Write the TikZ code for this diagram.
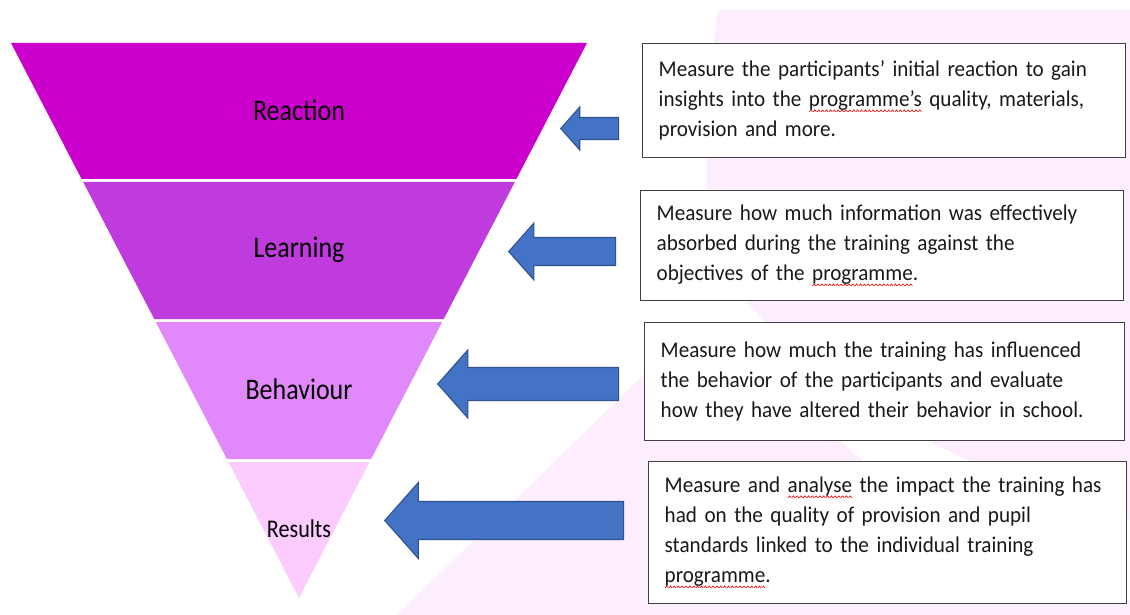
\documentclass[tikz,border=0pt]{standalone}
\usepackage{fontspec}
\setmainfont{Carlito}[FakeStretch=0.87]
\newfontfamily\descfamily{Carlito}[FakeStretch=0.94]
\usepackage{xcolor}
\usetikzlibrary{shapes.arrows}
\definecolor{reactcol}{RGB}{204,0,204}
\definecolor{learncol}{RGB}{191,59,221}
\definecolor{behavcol}{RGB}{225,137,251}
\definecolor{resultcol}{RGB}{253,204,255}
\definecolor{arrowblue}{RGB}{68,114,196}
\definecolor{arrowedge}{RGB}{47,82,143}
\definecolor{backpink}{RGB}{252,238,252}
\definecolor{boxedge}{RGB}{64,64,64}
\newsavebox{\spellbox}
\newcommand{\spellwave}[1]{\leavevmode\sbox{\spellbox}{#1}%
  \rlap{\lower3pt\hbox to \wd\spellbox{\xleaders\hbox{\tikz[x=1pt,y=1pt]\draw[red,line width=0.35pt] (0,0)--(0.9,1.1)--(1.8,0);}\hfill}}%
  \usebox{\spellbox}}
\newcommand{\desc}{\descfamily\fontsize{12.8pt}{17.1pt}\selectfont}
\tikzset{
  layerlabel/.style={text=black,inner sep=0pt},
  descbox/.style args={#1,#2}{
  draw=boxedge,
  fill=white,
  line width=0.8pt,
  anchor=north west,
  align=left,
  inner xsep=0.32cm,
  text width=#1 cm,
  minimum height=#2 cm,
  font=\desc,
  text=black!90
  },
  blockarrow/.style args={#1,#2,#3,#4}{
  single arrow,
  draw=arrowedge,
  fill=arrowblue,
  line width=0.6pt,
  shape border rotate=180,
  anchor=tip,
  inner xsep=0pt,
  minimum height=#1 cm,
  minimum width=#2 cm,
  inner ysep=#3 cm,
  single arrow head extend=#4 cm,
  single arrow tip angle=97
  }
}

\begin{document}
\begin{tikzpicture}[x=0.02cm,y=-0.02cm]
  \fill[white] (0,0) rectangle (1130,615);
  \useasboundingbox (0,0) rectangle (1130,615);

  % faint background
  \fill[backpink] (718,10) -- (1130,10) -- (1130,520)
    .. controls (860,440) and (760,330) .. (708,250)
    .. controls (703,150) and (710,60) .. (718,10) -- cycle;
  \fill[backpink] (397,615) -- (690,330)
    .. controls (720,300) and (760,370) .. (850,450)
    .. controls (920,510) and (1050,590) .. (1130,600) -- (1130,615) -- cycle;

  % funnel
  \foreach \ytop/\ybot/\col/\lname/\lsize/\ltext in
    {43/179/reactcol/reaction/17/Reaction,
     182/319/learncol/learning/17/Learning,
     322/459/behavcol/behaviour/17/Behaviour,
     462/598/resultcol/results/14.5/Results}{
    \pgfmathsetmacro\wtop{288/555*(598-\ytop)}
    \pgfmathsetmacro\wbot{288/555*(598-\ybot)}
    \pgfmathsetmacro\ymid{(\ytop+\ybot)/2-1}
    \fill[\col] (299-\wtop,\ytop) -- (299+\wtop,\ytop) -- (299+\wbot,\ybot) -- (299-\wbot,\ybot) -- cycle;
    \node[layerlabel,font=\fontsize{\lsize}{\lsize}\selectfont] (\lname) at (299,\ymid) {\ltext};
  }

  % descriptions
  \node[descbox={9.02,2.28}] (mreact) at (642,43)
    {Measure the participants’ initial reaction to gain\\
     insights into the \spellwave{programme’s} quality, materials,\\
     provision and more.};
  \node[descbox={9.02,2.2}] (mlearn) at (640,190)
    {Measure how much information was effectively\\
     absorbed during the training against the\\
     objectives of the \spellwave{programme}.};
  \node[descbox={8.96,2.36}] (mbehav) at (644,322)
    {Measure how much the training has influenced\\
     the behavior of the participants and evaluate\\
     how they have altered their behavior in school.};
  \node[descbox={8.92,2.84}] (mresult) at (648,461)
    {Measure and \spellwave{analyse} the impact the training has\\
     had on the quality of provision and pupil\\
     standards linked to the individual training\\
     \spellwave{programme}.};

  % arrows
  \node[blockarrow={1.16,0.84,0.21,0.21}] (areact) at (560,128.5) {};
  \node[blockarrow={2.14,1.12,0.27,0.29}] (alearn) at (508,251.5) {};
  \node[blockarrow={3.62,1.34,0.32,0.35}] (abehav) at (437,384) {};
  \node[blockarrow={4.78,1.5,0.37,0.38}] (aresult) at (384,520.5) {};
\end{tikzpicture}
\end{document}
